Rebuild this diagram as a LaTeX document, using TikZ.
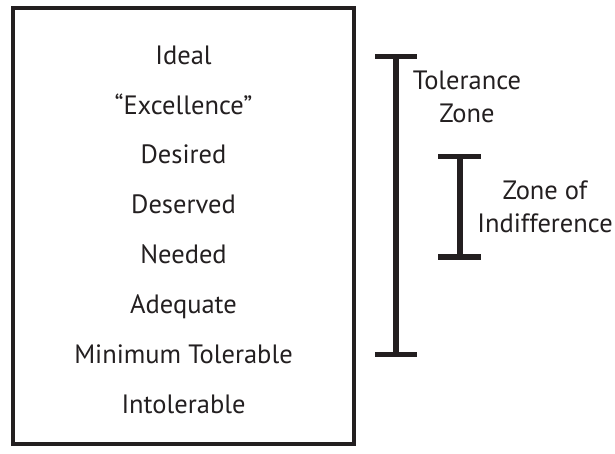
\documentclass[tikz,border=0pt]{standalone}
\usepackage{fontspec}
\setmainfont{PT Sans}
\definecolor{ink}{HTML}{231F20}
\begin{document}
\begin{tikzpicture}[x=1pt,y=-1pt,
  level/.style={font=\fontsize{26.5}{33}\selectfont, text=ink, anchor=base, inner sep=0pt},
  zonelabel/.style={level, align=center},
  frame/.style={draw=ink, line width=4pt},
  bar/.style={draw=ink, line width=5.5pt, line cap=butt},
  stem/.style={draw=ink, line width=6pt, line cap=butt}]
\useasboundingbox (0,0) rectangle (615,454);

% scale of service levels
\draw[frame] (13,8) rectangle (354,443.5);
\node[level] (ideal)      at (183.5,65)  {Ideal};
\node[level] (excellence) at (183.5,115) {“Excellence”};
\node[level] (desired)    at (183.5,164) {Desired};
\node[level] (deserved)   at (183.5,214) {Deserved};
\node[level] (needed)     at (183.5,263) {Needed};
\node[level] (adequate)   at (183.5,313) {Adequate};
\node[level] (mintol)     at (183.5,363) {Minimum Tolerable};
\node[level] (intol)      at (183.5,413) {Intolerable};

% tolerance zone bracket (label anchored on its last baseline)
\coordinate (tzTop) at (396,56.5);
\coordinate (tzBot) at (396,354.5);
\draw[bar] ([xshift=-21pt]tzTop) -- ([xshift=21pt]tzTop);
\draw[bar] ([xshift=-21pt]tzBot) -- ([xshift=21pt]tzBot);
\draw[stem] (tzTop) -- (tzBot);
\node[zonelabel] (tzLabel) at (467,123) {Tolerance\\Zone};

% zone of indifference bracket
\coordinate (ziTop) at (459.5,156.5);
\coordinate (ziBot) at (459.5,257);
\draw[bar] ([xshift=-21.5pt]ziTop) -- ([xshift=21.5pt]ziTop);
\draw[bar] ([xshift=-21.5pt]ziBot) -- ([xshift=21.5pt]ziBot);
\draw[stem] (ziTop) -- (ziBot);
\node[zonelabel] (ziLabel) at (545,233) {Zone of\\Indifference};
\end{tikzpicture}
\end{document}
